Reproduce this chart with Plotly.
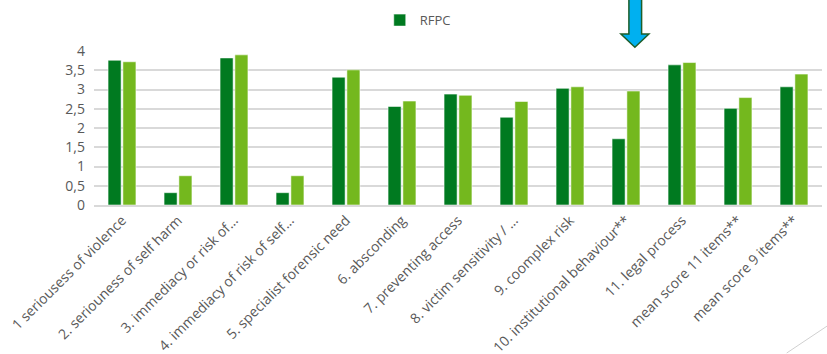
import plotly.graph_objects as go

categories = [
    "1 seriousess of violence",
    "2. seriouness of self harm",
    "3. immediacy or risk of...",
    "4. immediacy of risk of self...",
    "5. specialist forensic need",
    "6. absconding",
    "7. preventing access",
    "8. victim sensitivity / ...",
    "9. coomplex risk",
    "10. institutional behaviour**",
    "11. legal process",
    "mean score 11 items**",
    "mean score 9 items**",
]
rfpc = [3.76, 0.32, 3.82, 0.32, 3.32, 2.56, 2.88, 2.28, 3.03, 1.72, 3.64, 2.51, 3.07]
series2 = [3.72, 0.76, 3.90, 0.76, 3.51, 2.70, 2.85, 2.69, 3.07, 2.96, 3.70, 2.79, 3.40]
y_ticks = [0, 0.5, 1, 1.5, 2, 2.5, 3, 3.5, 4]
y_tick_labels = ["0", "0,5", "1", "1,5", "2", "2,5", "3", "3,5", "4"]

W, H = 827, 354
L, R, T, B = 94.4, 822, 51, 205.5

def px(x):
    return (x - L) / (R - L)

def py(y):
    return (B - y) / (B - T)

fig = go.Figure()
fig.add_trace(go.Bar(
    x=categories, y=rfpc, name="RFPC",
    marker=dict(color="#007A20", line=dict(color="rgba(255,255,255,0.55)", width=1)),
))
fig.add_trace(go.Bar(
    x=categories, y=series2, name="", showlegend=False,
    marker=dict(color="#74B81E", line=dict(color="rgba(255,255,255,0.55)", width=1)),
))

# blue arrow decoration
ax = [629, 641.7, 641.7, 649, 635, 621, 629, 629]
ay = [-2, -2, 34, 34, 47.3, 34, 34, -2]
path = "M " + " L ".join(f"{px(a):.5f},{py(b):.5f}" for a, b in zip(ax, ay)) + " Z"
shapes = [
    dict(type="path", xref="paper", yref="paper", path=path,
         fillcolor="#00B0F0", line=dict(color="#1E5E2A", width=1.5), layer="above"),
    dict(type="line", xref="paper", yref="paper",
         x0=px(786.7), y0=py(354), x1=px(830), y1=py(325),
         line=dict(color="#D0D0D0", width=1)),
]

fig.update_layout(
    width=W, height=H,
    margin=dict(l=L, r=W - R, t=T, b=H - B, pad=0, autoexpand=False),
    paper_bgcolor="white", plot_bgcolor="white",
    barmode="group", bargap=0.47, bargroupgap=0.12,
    font=dict(family="Open Sans", color="#595959", size=12),
    showlegend=True,
    legend=dict(orientation="h", x=px(380), y=py(5), xanchor="left", yanchor="top",
                font=dict(size=13, color="#595959"), itemwidth=30,
                bgcolor="rgba(0,0,0,0)"),
    xaxis=dict(tickangle=-45, showgrid=False, showline=True, linecolor="#D9D9D9",
               linewidth=1.5, ticks="", automargin=False,
               tickfont=dict(size=14, color="#595959")),
    yaxis=dict(range=[0, 4], tickvals=y_ticks, ticktext=y_tick_labels,
               showgrid=True, gridcolor="#D9D9D9", gridwidth=1.5, zeroline=False,
               ticks="", ticklabelstandoff=8, automargin=False,
               tickfont=dict(size=14, color="#595959")),
    shapes=shapes,
)

fig.write_html("out.html")
